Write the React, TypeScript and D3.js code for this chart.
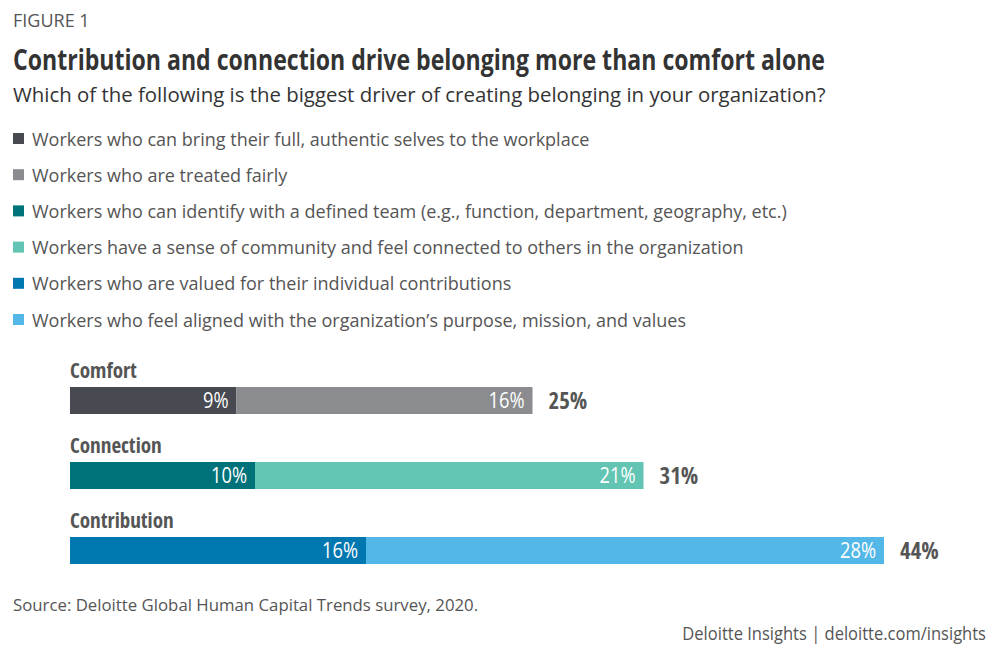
import React from 'react';
import * as d3 from 'd3';

const categories = ['Comfort', 'Connection', 'Contribution'];
const firstValues = [9, 10, 16];
const secondValues = [16, 21, 28];
const totals = [25, 31, 44];
const legendLabels = [
    'Workers who can bring their full, authentic selves to the workplace',
    'Workers who are treated fairly',
    'Workers who can identify with a defined team (e.g., function, department, geography, etc.)',
    'Workers have a sense of community and feel connected to others in the organization',
    'Workers who are valued for their individual contributions',
    'Workers who feel aligned with the organization\u2019s purpose, mission, and values',
];

const legendColors = ['#474a51', '#8b8c8f', '#00727a', '#62c5b4', '#0177b0', '#53b8e8'];
const condensed = "'Open Sans Condensed', 'Liberation Sans Narrow', 'DejaVu Sans Condensed', 'Open Sans', sans-serif";

// regular-weight condensed text: Open Sans squeezed horizontally
const Narrow: React.FC<{ x: number; y: number; size: number; fill: string; sx?: number; anchor?: string; children: React.ReactNode }> =
    ({ x, y, size, fill, sx = 0.85, anchor = 'start', children }) => (
        <text transform={`translate(${x},${y}) scale(${sx},1)`} fontSize={size} fill={fill}
            textAnchor={anchor}>{children}</text>
    );

const App: React.FC = () => {
    const width = 1000;
    const height = 659;

    // x scale: percent -> pixels
    const x = d3.scaleLinear().domain([0, 44]).range([70, 884]);

    const y = d3.scaleBand<string>()
        .domain(categories)
        .range([362, 587]);

    const legendY = d3.scalePoint<string>()
        .domain(legendLabels)
        .range([139, 320]);

    return (
        <svg width={width} height={height}
            style={{ position: 'absolute', left: 0, top: 0, background: '#fff' }}
            fontFamily="'Open Sans', sans-serif">
            <text x={13} y={27} fontSize={18} fill="#555">FIGURE 1</text>
            <text x={13} y={70} fontSize={28} fontWeight={700} fill="#333"
                textLength={812} lengthAdjust="spacingAndGlyphs">
                Contribution and connection drive belonging more than comfort alone
            </text>
            <text x={13} y={102} fontSize={20.4} fill="#333">
                Which of the following is the biggest driver of creating belonging in your organization?
            </text>

            {legendLabels.map((label, i) => (
                <g key={label} transform={`translate(0,${legendY(label)})`}>
                    <rect x={13} y={-6} width={11} height={11} fill={legendColors[i]} />
                    <text x={32} y={6.5} fontSize={18} fill="#555">{label}</text>
                </g>
            ))}

            {categories.map((cat, i) => {
                const top = (y(cat) || 0) + 25;
                const barH = 27;
                const x0 = x(0);
                const x1 = x(firstValues[i]);
                const x2 = x(firstValues[i] + secondValues[i]);
                return (
                    <g key={cat}>
                        <text x={70} y={top - 9} fontSize={21} fontWeight={700} fill="#555"
                            fontFamily={condensed}>{cat}</text>
                        <rect x={x0} y={top} width={x1 - x0} height={barH} fill={legendColors[i * 2]} />
                        <rect x={x1} y={top} width={x2 - x1} height={barH} fill={legendColors[i * 2 + 1]} />
                        <Narrow x={x1 - 8} y={top + 21} size={21.5} fill="#fff" anchor="end">{firstValues[i]}%</Narrow>
                        <Narrow x={x2 - 8} y={top + 21} size={21.5} fill="#fff" anchor="end">{secondValues[i]}%</Narrow>
                        <text x={x(totals[i]) + 16} y={top + 22} fontSize={23} fontWeight={700} fill="#555"
                            fontFamily={condensed}>{totals[i]}%</text>
                    </g>
                );
            })}

            <text x={13} y={611} fontSize={16.8} fill="#555">
                Source: Deloitte Global Human Capital Trends survey, 2020.
            </text>
            <Narrow x={986} y={640} size={19} sx={0.87} fill="#555" anchor="end">
                Deloitte Insights | deloitte.com/insights
            </Narrow>
        </svg>
    );
};

export default App;
